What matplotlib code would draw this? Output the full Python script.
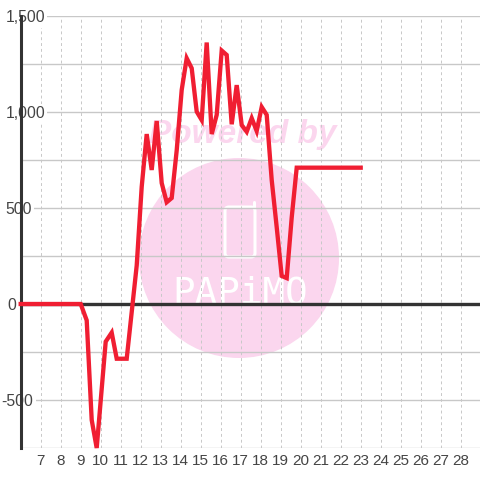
import matplotlib
matplotlib.use("Agg")
import matplotlib.pyplot as plt
from matplotlib.patches import Circle, FancyBboxPatch
from matplotlib.ticker import MultipleLocator

HOURS = [
    6.0, 9.0, 9.3, 9.55, 9.8, 10.25, 10.55, 10.8, 11.3, 11.8, 12.05, 12.3,
    12.55, 12.8, 13.05, 13.3, 13.55, 13.8, 14.05, 14.3, 14.55, 14.8, 15.05,
    15.3, 15.55, 15.8, 16.05, 16.3, 16.55, 16.8, 17.05, 17.3, 17.55, 17.8,
    18.05, 18.3, 18.55, 18.8, 19.05, 19.3, 19.55, 19.8, 23.0,
]
VALUES = [
    0, 0, -85, -604, -750, -196, -149, -285, -285, 200, 610, 885,
    698, 953, 630, 530, 552, 800, 1115, 1280, 1228, 1002, 958,
    1362, 885, 985, 1320, 1297, 936, 1140, 932, 897, 968, 901,
    1026, 985, 646, 400, 146, 135, 450, 710, 710,
]
X_TICKS = list(range(7, 29))
Y_MAJOR = [1500, 1000, 500, 0, -500]
Y_LABELS = ["1,500", "1,000", "500", "0", "-500"]
Y_LABEL_OFFSETS = [-15, -15, -15, -13, -19]

GRID = "#c8c8c8"
AXIS = "#333333"
RED = "#f01e32"
PINK = "#fbd6ee"

plt.rcParams["font.family"] = ["Liberation Sans", "DejaVu Sans"]

fig = plt.figure(figsize=(4.8, 4.8), dpi=100)

# watermark sits under the chart, drawn in pixel coordinates
bg = fig.add_axes([0, 0, 1, 1], zorder=0)
bg.set_xlim(0, 480)
bg.set_ylim(480, 0)
bg.axis("off")
bg.add_patch(Circle((239, 258), 100, fc=PINK, ec="none"))
bg.add_patch(FancyBboxPatch((225, 207), 30, 50, boxstyle="round,pad=0,rounding_size=4",
                            fc="none", ec="white", lw=2.2))
bg.plot([254, 254], [202, 208], color="white", lw=2.2, solid_capstyle="round")
bg.text(242.5, 134, "Powered by", fontsize=24, fontweight="bold", fontstyle="italic",
        color=PINK, ha="center", va="center")
bg.text(240.5, 304, "PAPiMO", fontsize=27, color="white", ha="center", va="baseline",
        family="DejaVu Sans Mono")

ax = fig.add_axes([20.7 / 480, 32 / 480, (480 - 20.7) / 480, 432 / 480], zorder=1)
ax.patch.set_alpha(0)
ax.set_xlim(6, 28.965)
ax.set_ylim(-750, 1500)

ax.set_xticks(X_TICKS)
ax.yaxis.set_major_locator(MultipleLocator(250))
ax.tick_params(length=0, labelleft=False, labelsize=11, labelcolor="#444444", pad=4)
ax.grid(True, axis="y", color=GRID, lw=1.0)
ax.grid(True, axis="x", color=GRID, lw=0.7, linestyle=(0, (3, 3)))
ax.set_axisbelow(True)

for side in ["top", "right", "bottom"]:
    ax.spines[side].set_visible(False)
ax.spines["left"].set_color(AXIS)
ax.spines["left"].set_linewidth(2.2)

ax.axhline(0, color=AXIS, lw=2.4, zorder=2)
ax.plot(HOURS, VALUES, color=RED, lw=3.1, solid_capstyle="projecting",
        solid_joinstyle="miter", clip_on=False, zorder=3)

for v, lab, dx in zip(Y_MAJOR, Y_LABELS, Y_LABEL_OFFSETS):
    ax.annotate(lab, xy=(0, v), xycoords=ax.get_yaxis_transform(), xytext=(dx, -2),
                textcoords="offset pixels", fontsize=11.3, color="#444444", ha="left",
                va="center", zorder=2.5, annotation_clip=False,
                bbox=dict(fc="white", ec="none", pad=1.5))

fig.savefig("out.png", dpi=100)
plt.close(fig)
